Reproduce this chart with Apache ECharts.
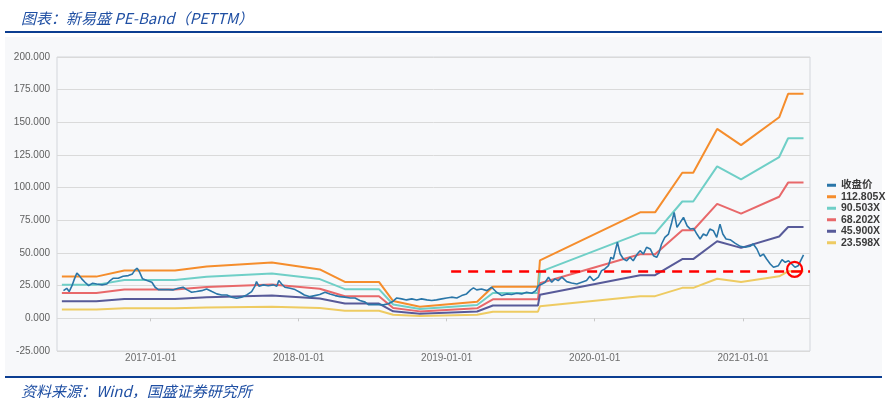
<!DOCTYPE html>
<html lang="zh-CN">
<head>
<meta charset="UTF-8">
<title>新易盛 PE-Band</title>
<script src="https://cdn.jsdelivr.net/npm/echarts@6/dist/echarts.min.js"></script>
<style>
  html, body { margin: 0; padding: 0; background: #fff; }
  #main { width: 888px; height: 398px; }
</style>
</head>
<body>
<div id="main"></div>
<script>
// 收盘价（日期 / 数值）
const closeDates = [
  '2016-05-31','2016-06-08','2016-06-14','2016-06-21','2016-06-27','2016-07-03','2016-07-09','2016-07-15',
  '2016-07-23','2016-08-01','2016-08-11','2016-08-21','2016-09-03','2016-09-15','2016-09-23','2016-10-01',
  '2016-10-13','2016-10-25','2016-11-07','2016-11-17','2016-11-24','2016-11-29','2016-12-04','2016-12-12',
  '2016-12-23','2017-01-04','2017-01-12','2017-01-20','2017-02-01','2017-02-14','2017-02-26','2017-03-10',
  '2017-03-22','2017-03-31','2017-04-12','2017-04-24','2017-05-07','2017-05-19','2017-06-01','2017-06-13',
  '2017-06-25','2017-07-08','2017-07-20','2017-08-01','2017-08-13','2017-08-26','2017-09-07','2017-09-15',
  '2017-09-19','2017-09-25','2017-10-06','2017-10-18','2017-10-31','2017-11-08','2017-11-13','2017-11-20',
  '2017-11-28','2017-12-11','2017-12-23','2018-01-04','2018-01-15','2018-01-29','2018-02-10','2018-02-22',
  '2018-03-07','2018-03-19','2018-04-01','2018-04-13','2018-04-25','2018-05-08','2018-05-20','2018-06-01',
  '2018-06-14','2018-06-22','2018-07-04','2018-07-16','2018-07-29','2018-08-10','2018-08-22','2018-08-31',
  '2018-09-12','2018-09-24','2018-10-07','2018-10-19','2018-10-31','2018-11-13','2018-11-25','2018-12-07',
  '2018-12-20','2019-01-01','2019-01-13','2019-01-26','2019-02-07','2019-02-19','2019-03-01','2019-03-08',
  '2019-03-16','2019-03-28','2019-04-10','2019-04-22','2019-05-04','2019-05-17','2019-05-29','2019-06-10',
  '2019-06-23','2019-07-05','2019-07-17','2019-07-30','2019-08-09','2019-08-15','2019-08-23','2019-09-01',
  '2019-09-09','2019-09-17','2019-09-25','2019-10-03','2019-10-12','2019-10-24','2019-11-05','2019-11-18',
  '2019-11-30','2019-12-12','2019-12-20','2019-12-29','2020-01-10','2020-01-18','2020-01-26','2020-02-04',
  '2020-02-10','2020-02-16','2020-02-26','2020-03-04','2020-03-12','2020-03-20','2020-03-28','2020-04-05',
  '2020-04-15','2020-04-22','2020-04-30','2020-05-08','2020-05-17','2020-05-25','2020-06-02','2020-06-08',
  '2020-06-14','2020-06-22','2020-07-01','2020-07-09','2020-07-15','2020-07-22','2020-07-30','2020-08-07',
  '2020-08-16','2020-08-24','2020-09-01','2020-09-09','2020-09-17','2020-09-25','2020-10-03','2020-10-11',
  '2020-10-20','2020-10-28','2020-11-05','2020-11-12','2020-11-20','2020-11-30','2020-12-12','2020-12-25',
  '2021-01-06','2021-01-18','2021-01-26','2021-02-04','2021-02-12','2021-02-20','2021-02-28','2021-03-09',
  '2021-03-17','2021-03-29','2021-04-07','2021-04-15','2021-04-23','2021-05-01','2021-05-09','2021-05-17',
  '2021-05-23','2021-05-30'
];
const closeValues = [
  21.2, 23.0, 20.5, 25.0, 30.2, 34.7, 32.7, 30.2,
  27.6, 25.0, 26.9, 26.3, 25.6, 26.3, 28.9, 30.7,
  30.7, 32.2, 32.7, 34.0, 37.3, 38.3, 35.7, 30.2,
  28.9, 27.6, 23.8, 22.0, 22.0, 22.0, 21.8, 23.0,
  23.8, 22.0, 20.0, 20.5, 21.2, 22.5, 20.5, 18.7,
  17.9, 17.9, 16.2, 15.4, 16.2, 17.9, 20.5, 24.6,
  28.1, 24.6, 25.6, 25.0, 25.6, 24.6, 28.9, 26.3,
  23.8, 23.0, 22.0, 20.0, 17.9, 16.6, 17.4, 18.2,
  20.0, 18.7, 17.4, 16.6, 16.2, 15.6, 15.6, 13.6,
  12.4, 10.5, 10.5, 10.5, 10.3, 11.1, 13.1, 15.6,
  14.9, 14.1, 14.9, 14.1, 14.9, 14.1, 13.6, 14.1,
  14.9, 15.6, 16.2, 15.6, 17.4, 18.7, 21.8, 23.3,
  21.8, 22.5, 21.2, 23.8, 20.0, 17.4, 18.7, 18.2,
  19.2, 18.7, 20.0, 19.2, 21.2, 25.0, 26.0, 27.6,
  31.5, 27.6, 30.2, 28.9, 31.5, 28.1, 27.1, 26.3,
  27.6, 28.9, 32.2, 28.9, 31.5, 36.5, 37.8, 40.3,
  46.7, 45.4, 58.2, 49.2, 45.4, 44.1, 46.7, 44.1,
  49.2, 51.8, 49.2, 54.4, 53.1, 47.9, 46.7, 50.5,
  56.9, 62.0, 64.5, 73.4, 81.1, 69.6, 73.4, 77.3,
  70.8, 68.3, 68.8, 64.5, 60.7, 64.5, 63.2, 68.3,
  67.0, 62.0, 72.1, 64.5, 60.7, 60.2, 57.6, 55.1,
  54.4, 55.1, 56.9, 53.1, 47.5, 49.2, 45.4, 41.6,
  39.1, 40.3, 44.9, 42.9, 44.1, 41.6, 39.1, 40.3,
  44.1, 48.5
];

// EPS(TTM) 拐点（由图中 112.805X 曲线读出）
const epsDates = [
  '2016-05-27','2016-08-20','2016-10-28','2017-03-02','2017-05-19','2017-10-27','2018-02-22','2018-04-25',
  '2018-07-18','2018-08-22','2018-10-27','2019-03-17','2019-04-25','2019-08-14','2019-08-19','2020-04-22',
  '2020-05-29','2020-08-04','2020-08-31','2020-10-29','2020-12-27','2021-03-31','2021-04-22','2021-05-30'
];
const epsValues = [
  0.283, 0.283, 0.324, 0.324, 0.352, 0.379, 0.332, 0.247,
  0.247, 0.117, 0.078, 0.113, 0.214, 0.214, 0.393, 0.719,
  0.719, 0.988, 0.988, 1.285, 1.175, 1.364, 1.523, 1.523
];

const peMultiples = [112.805, 90.503, 68.202, 45.900, 23.598];
const bandNames = ['112.805X', '90.503X', '68.202X', '45.900X', '23.598X'];
const bandColors = ['#f58d2c', '#6fcfc7', '#e8686a', '#575a99', '#eecb62'];
const yearTicks = ['2017-01-01', '2018-01-01', '2019-01-01', '2020-01-01', '2021-01-01'];

// 标注：红色虚线与圆圈
const supportLevel = 35.8;
const supportStart = '2019-01-12';
const circleDate = '2021-05-08';
const circleValue = 37.5;

function toTime(s) {
  const p = s.split('-').map(Number);
  return new Date(p[0], p[1] - 1, p[2]).getTime();
}
function pad(n) { return n < 10 ? '0' + n : '' + n; }
function fmtDate(t) {
  const d = new Date(t);
  return d.getFullYear() + '-' + pad(d.getMonth() + 1) + '-' + pad(d.getDate());
}

const xMin = toTime('2016-05-15');
const xMax = toTime('2021-06-15');
const tickTimes = yearTicks.map(toTime);

const closeData = closeDates.map((d, i) => [toTime(d), closeValues[i]]);

const bandSeries = peMultiples.map((m, k) => ({
  name: bandNames[k],
  type: 'line',
  showSymbol: false,
  symbol: 'none',
  lineStyle: { width: 2, color: bandColors[k] },
  itemStyle: { color: bandColors[k] },
  z: 2,
  data: epsDates.map((d, i) => [toTime(d), +(epsValues[i] * m).toFixed(2)])
}));

const chart = echarts.init(document.getElementById('main'), null, { renderer: 'canvas' });

chart.setOption({
  backgroundColor: '#ffffff',
  animation: false,
  textStyle: { fontFamily: 'Liberation Sans, "Noto Sans CJK SC", sans-serif' },
  title: [{
    text: '图表：新易盛 PE-Band（PETTM）',
    left: 16, top: 6,
    textStyle: { fontSize: 15, fontStyle: 'italic', fontWeight: 'normal', color: '#1f4fa3',
      fontFamily: '"Noto Sans CJK SC", sans-serif' }
  }, {
    text: '资料来源：Wind，国盛证券研究所',
    left: 16, top: 379,
    textStyle: { fontSize: 15, fontStyle: 'italic', fontWeight: 'normal', color: '#1f4fa3',
      fontFamily: '"Noto Sans CJK SC", sans-serif' }
  }],
  graphic: [
    { type: 'rect', z: -10, shape: { x: 5, y: 37, width: 877, height: 339 }, style: { fill: '#f7f8fa' } },
    { type: 'rect', z: 10, shape: { x: 5, y: 31, width: 877, height: 2 }, style: { fill: '#0c3e91' } },
    { type: 'rect', z: 10, shape: { x: 5, y: 376, width: 877, height: 2 }, style: { fill: '#0c3e91' } }
  ],
  legend: {
    orient: 'vertical',
    left: 822, top: 175,
    itemWidth: 9, itemHeight: 3,
    itemGap: 1,
    icon: 'rect',
    textStyle: { fontSize: 10.5, fontWeight: 'bold', color: '#3a3a3a' },
    data: ['收盘价'].concat(bandNames)
  },
  grid: {
    left: 57, right: 78, top: 57, bottom: 47,
    show: true, borderColor: '#d3d6db', borderWidth: 1, backgroundColor: 'transparent'
  },
  xAxis: {
    type: 'value',
    min: xMin, max: xMax,
    axisLine: { show: false },
    splitLine: { show: false },
    axisTick: { show: true, length: 3, lineStyle: { color: '#c8c8c8' }, customValues: tickTimes },
    axisLabel: {
      customValues: tickTimes,
      formatter: v => fmtDate(v),
      fontSize: 10, color: '#6b6b6b', margin: 2
    }
  },
  yAxis: {
    type: 'value',
    min: -25, max: 200, interval: 25,
    axisLine: { show: false },
    axisTick: { show: false },
    splitLine: { lineStyle: { color: '#dadada', width: 1 } },
    axisLabel: { formatter: v => v.toFixed(3), fontSize: 10, color: '#5f5f5f', margin: 7 }
  },
  series: [{
    name: '收盘价',
    type: 'line',
    showSymbol: false,
    symbol: 'none',
    lineStyle: { width: 1.6, color: '#2a76a8' },
    itemStyle: { color: '#2a76a8' },
    z: 3,
    data: closeData,
    markLine: {
      silent: true,
      symbol: ['none', 'none'],
      label: { show: false },
      lineStyle: { color: '#ff0000', width: 2.5, type: [10, 7] },
      data: [[{ coord: [toTime(supportStart), supportLevel] }, { coord: [xMax, supportLevel] }]]
    },
    markPoint: {
      silent: true,
      symbol: 'circle',
      symbolSize: 15,
      label: { show: false },
      itemStyle: { color: 'rgba(0,0,0,0)', borderColor: '#ff0000', borderWidth: 2.2 },
      data: [{ coord: [toTime(circleDate), circleValue] }]
    }
  }].concat(bandSeries)
});
</script>
</body>
</html>
